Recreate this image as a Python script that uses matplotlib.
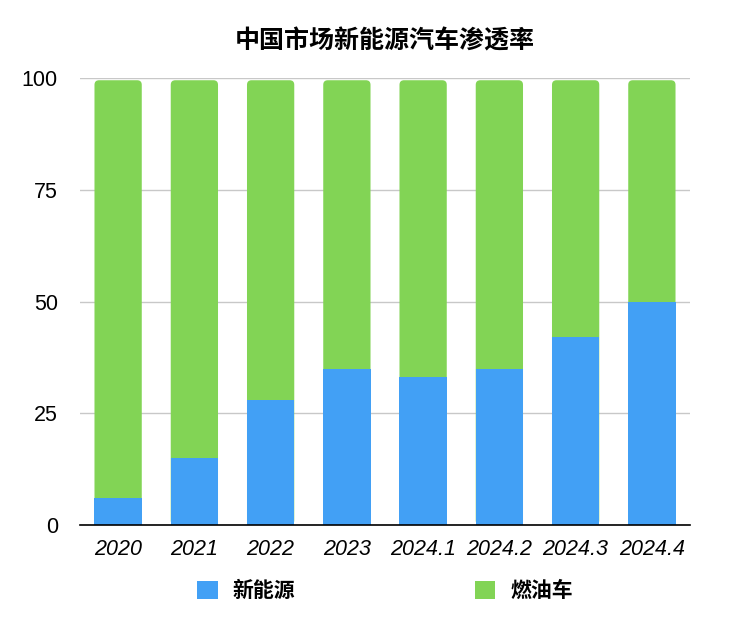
import numpy as np
import matplotlib
matplotlib.use('Agg')
from matplotlib import pyplot as plt
from matplotlib.patches import FancyBboxPatch, Patch

''' Stacked share chart: NEV penetration in the China market '''

categories = ['2020', '2021', '2022', '2023', '2024.1', '2024.2', '2024.3', '2024.4']
nev = [6, 15, 28, 35, 33, 35, 42, 50]          # 新能源
ice = [100 - v for v in nev]                     # 燃油车
series_names = ['新能源', '燃油车']
title = '中国市场新能源汽车渗透率'
yticks = [0, 25, 50, 75, 100]

blue = '#42a0f5'
green = '#82d455'

plt.rcParams['font.family'] = ['Liberation Sans', 'Noto Sans CJK SC', 'DejaVu Sans']

fig = plt.figure(figsize=(7.29, 6.40), dpi=100)
ax = fig.add_axes([80/729, 1 - 525/640, 610/729, (525 - 78)/640])

x = np.arange(len(categories))
width = 0.62

## green part: rounded box from 0 up to the stack top, blue bar drawn over its lower part
for xi, b, g in zip(x, nev, ice):
    box = FancyBboxPatch((xi - width/2, 0), width, b + g - 0.5,
                         boxstyle='round,pad=0,rounding_size=0.06',
                         mutation_aspect=17, fc=green, ec='none', zorder=2)
    ax.add_patch(box)
ax.bar(x, nev, width, color=blue, zorder=3)

ax.set_xlim(-0.5, len(categories) - 0.5)
ax.set_ylim(0, 100)
ax.set_yticks(yticks)
ax.set_yticklabels([str(t) for t in yticks], fontsize=15.5)
ax.set_xticks(x)
ax.set_xticklabels(categories, fontsize=15.5, style='italic')
ax.tick_params(axis='both', length=0)
ax.tick_params(axis='y', pad=16)
ax.tick_params(axis='x', pad=10)

ax.grid(axis='y', color='#c8c8c8', lw=1, zorder=0)
for s in ['left', 'right', 'top']:
    ax.spines[s].set_visible(False)
ax.spines['bottom'].set_color('black')
ax.spines['bottom'].set_linewidth(1.2)
ax.spines['bottom'].set_zorder(4)

ax.set_title(title, fontsize=18, fontweight='bold', pad=21)

handles = [Patch(fc=blue, ec='none'), Patch(fc=green, ec='none')]
fig.legend(handles, series_names, loc='center', ncol=2,
           bbox_to_anchor=(385/729, 1 - 591/640), frameon=False,
           prop={'size': 15, 'weight': 'bold'},
           handlelength=1.0, handleheight=1.0, handletextpad=0.7,
           columnspacing=8.6)

fig.savefig('out.png', dpi=100)
